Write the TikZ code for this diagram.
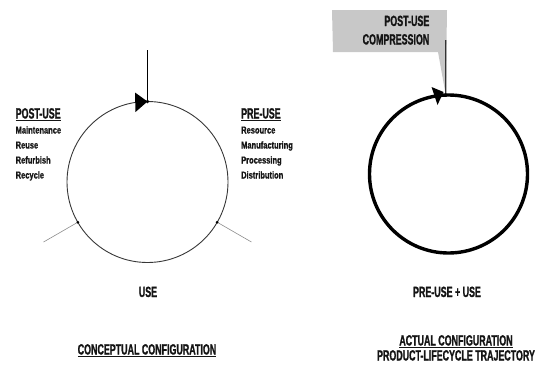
\documentclass[tikz,border=0pt]{standalone}
\usepackage{fontspec}
\newfontfamily\headfont[FakeStretch=0.6,BoldFeatures={FakeBold=1.2}]{Liberation Sans}
\newfontfamily\smallfont[FakeStretch=0.75,BoldFeatures={FakeBold=0.8}]{Liberation Sans}
\definecolor{ink}{HTML}{141414}
\definecolor{boxgrey}{HTML}{C8C8C8}
\tikzset{
  head/.style={inner sep=0pt, text=ink, font=\headfont\bfseries\fontsize{14.8}{16}\selectfont},
  item/.style={inner sep=0pt, text=ink, anchor=base west, font=\smallfont\bfseries\fontsize{10}{12}\selectfont},
  thinring/.style={draw=ink!85, line width=0.9pt},
  thickring/.style={draw=black, line width=3.4pt},
  spoke/.style={draw=black!45, line width=0.6pt},
  dot/.style={circle, fill=black, inner sep=0pt, minimum size=#1},
  tip/.style={fill=black, draw=none}
}
\begin{document}
\begin{tikzpicture}[x=1pt,y=-1pt]
\useasboundingbox (0,0) rectangle (535,364);
% ---------- left: conceptual configuration ----------
\coordinate (lc) at (147.5,182);
\draw[thinring] (lc) circle[radius=80.5pt];
\coordinate (ltop) at (147.5,101.5);
\coordinate (lin) at (147.5,50);
\draw[draw=black, line width=1.1pt] (lin) -- (ltop);
\fill[tip] (147.5,101.5) -- (135,92.5) -- (135.5,112) -- cycle;
\node[dot=3.6pt] (ltopdot) at (ltop) {};
\coordinate (lll) at ([shift={(lc)}]210:80.5pt);
\coordinate (llo) at ([shift={(lc)}]210:120pt);
\coordinate (lrl) at ([shift={(lc)}]330:80.5pt);
\coordinate (lro) at ([shift={(lc)}]330:120pt);
\draw[spoke] (lll) -- (llo);
\draw[spoke] (lrl) -- (lro);
\node[dot=3pt] (lldot) at (lll) {};
\node[dot=3pt] (lrdot) at (lrl) {};
% labels
\node[head, anchor=base west] (post) at (15.5,118.5) {\underline{POST-USE}};
\node[item] (p1) at (15.5,133.5) {Maintenance};
\node[item] (p2) at (15.5,148.5) {Reuse};
\node[item] (p3) at (15.5,163.5) {Refurbish};
\node[item] (p4) at (15.5,178.5) {Recycle};
\node[head, anchor=base west] (pre) at (241,118.5) {\underline{PRE-USE}};
\node[item] (r1) at (241,133.5) {Resource};
\node[item] (r2) at (241,148.5) {Manufacturing};
\node[item] (r3) at (241,163.5) {Processing};
\node[item] (r4) at (241,178.5) {Distribution};
\node[head, anchor=base] (use) at (148,297) {USE};
\node[head, anchor=base] (concept) at (147,354.5) {\underline{CONCEPTUAL CONFIGURATION}};
% ---------- right: actual configuration ----------
\coordinate (rc) at (448.5,174);
\coordinate (rtop) at ([shift={(rc)}]92:79pt);
\fill[boxgrey] (332,10) -- (447,10) -- (rtop) -- (438,52) -- (333,52) -- cycle;
\node[head, anchor=base east] (bx1) at (429.5,26) {POST-USE};
\node[head, anchor=base east] (bx2) at (429.5,44.5) {COMPRESSION};
\coordinate (rin) at (445.7,40);
\draw[draw=black!80, line width=1.4pt] (rin) -- (rtop);
\draw[thickring] (rc) circle[radius=79pt];
\fill[tip] (443.5,92) -- (431.5,87) -- (437.5,105) -- cycle;
\node[dot=3.6pt] (rtopdot) at (rtop) {};
\node[head, anchor=base] (puse) at (447,297) {PRE-USE + USE};
\node[head, anchor=base] (actual) at (456,345.5) {\underline{ACTUAL CONFIGURATION}};
\node[head, anchor=base] (traj) at (456,360.5) {PRODUCT-LIFECYCLE TRAJECTORY};
\end{tikzpicture}
\end{document}
